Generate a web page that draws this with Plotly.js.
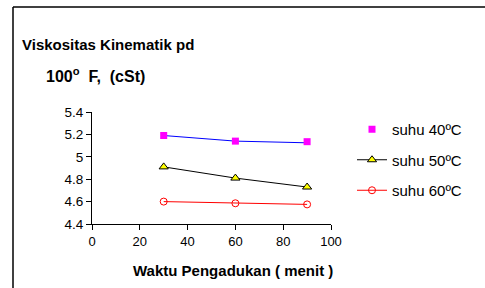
<!DOCTYPE html>
<html>
<head>
<meta charset="utf-8">
<script src="https://cdn.plot.ly/plotly-3.0.1.min.js"></script>
<style>html,body{margin:0;padding:0;background:#fff;}#chart{width:485px;height:288px;}</style>
</head>
<body>
<div id="chart"></div>
<script>
const waktu = [30, 60, 90];
const suhu40 = [5.19, 5.14, 5.135];
const suhu40Line = [5.19, 5.14, 5.125];
const suhu50 = [4.91, 4.81, 4.73];
const suhu60 = [4.60, 4.585, 4.575];
const xTicks = [0, 20, 40, 60, 80, 100];
const yTicks = [4.4, 4.6, 4.8, 5.0, 5.2, 5.4];
const yTickText = ['4.4', '4.6', '4.8', '5', '5.2', '5.4'];

const FONT = 'Liberation Sans, Arial, sans-serif';

const traces = [
  {x: waktu, y: suhu40Line, mode: 'lines', line: {color: '#0000ff', width: 1}, showlegend: false, hoverinfo: 'skip'},
  {x: waktu, y: suhu40, mode: 'markers', name: 'suhu 40ºC', legendgroup: 'a',
   marker: {symbol: 'square', size: 7, color: '#ff00ff'}},
  {x: waktu, y: suhu50, mode: 'lines+markers', name: 'suhu 50ºC', legendgroup: 'b',
   line: {color: '#000000', width: 1},
   marker: {symbol: 'triangle-up', size: 8, color: '#ffff00', line: {color: '#000000', width: 1}}},
  {x: waktu, y: suhu60, mode: 'lines+markers', name: 'suhu 60ºC', legendgroup: 'c',
   line: {color: '#ff0000', width: 1},
   marker: {symbol: 'circle-open', size: 7, color: '#ff0000', line: {width: 1}}}
];

const L = 92, R = 154, T = 112, B = 64;
const W = 485 - L - R, H = 288 - T - B;
const px = v => (v - L) / W;
const py = v => (288 - B - v) / H;

const layout = {
  width: 485, height: 288,
  margin: {l: L, r: R, t: T, b: B, pad: 0},
  paper_bgcolor: '#ffffff', plot_bgcolor: '#ffffff',
  font: {family: FONT, size: 13, color: '#000000'},
  xaxis: {
    range: [0, 100], tickvals: xTicks, ticktext: xTicks.map(String),
    showgrid: false, zeroline: false, showline: true, linecolor: '#000', linewidth: 1,
    ticks: 'outside', ticklen: 5, tickcolor: '#000',
    tickfont: {family: FONT, size: 13}
  },
  yaxis: {
    range: [4.4, 5.4], tickvals: yTicks, ticktext: yTickText,
    showgrid: false, zeroline: false, showline: true, linecolor: '#000', linewidth: 1,
    ticks: 'outside', ticklen: 5, tickcolor: '#000',
    tickfont: {family: FONT, size: 13.5}
  },
  legend: {
    x: px(352), y: py(113), xanchor: 'left', yanchor: 'top',
    font: {family: FONT, size: 15}, traceorder: 'grouped', tracegroupgap: 8,
    bgcolor: 'rgba(0,0,0,0)'
  },
  annotations: [
    {text: '<b>Viskositas Kinematik pd</b>', xref: 'paper', yref: 'paper', x: px(20), y: py(45),
     xanchor: 'left', yanchor: 'middle', showarrow: false, font: {family: FONT, size: 15}},
    {text: '<b>100<sup>o</sup>&nbsp; F,&nbsp; (cSt)</b>', xref: 'paper', yref: 'paper', x: px(44), y: py(75),
     xanchor: 'left', yanchor: 'middle', showarrow: false, font: {family: FONT, size: 16}},
    {text: '<b>Waktu Pengadukan ( menit )</b>', xref: 'paper', yref: 'paper', x: px(233), y: py(270),
     xanchor: 'center', yanchor: 'middle', showarrow: false, font: {family: FONT, size: 15}}
  ],
  shapes: [
    {type: 'line', xref: 'paper', yref: 'paper', x0: px(13), x1: px(486), y0: py(7), y1: py(7), line: {color: '#000', width: 1.5}},
    {type: 'line', xref: 'paper', yref: 'paper', x0: px(13), x1: px(13), y0: py(7), y1: py(290), line: {color: '#000', width: 1.5}}
  ],
  showlegend: true
};

Plotly.newPlot('chart', traces, layout, {staticPlot: true, displayModeBar: false});
</script>
</body>
</html>
